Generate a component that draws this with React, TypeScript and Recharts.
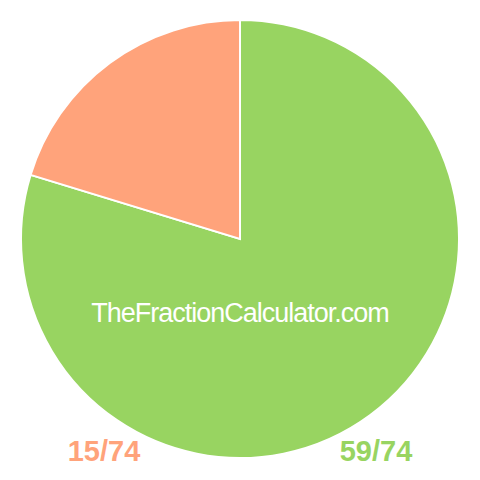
import React from 'react';
import { PieChart, Pie, Cell } from 'recharts';

const names = ['59/74', '15/74'];
const values = [59, 15];
const colors = ['#98d461', '#ffa37b'];
const siteName = 'TheFractionCalculator.com';

const data = names.map((name, i) => ({ name, value: values[i] }));

const App = () => {
  return (
    <div
      style={{
        position: 'absolute',
        top: 0,
        left: 0,
        width: 480,
        height: 480,
        background: '#fff',
        fontFamily: '"Liberation Sans", Arial, sans-serif',
      }}
    >
      <PieChart
        width={480}
        height={480}
        margin={{ top: 0, right: 0, bottom: 0, left: 0 }}
      >
        <Pie
          data={data}
          dataKey="value"
          cx={240}
          cy={239}
          outerRadius={219}
          startAngle={90}
          endAngle={-270}
          stroke="#fff"
          strokeWidth={2}
          isAnimationActive={false}
        >
          {data.map((entry, index) => (
            <Cell key={index} fill={colors[index]} />
          ))}
        </Pie>
      </PieChart>
      <svg
        width={480}
        height={480}
        style={{ position: 'absolute', top: 0, left: 0, pointerEvents: 'none' }}
      >
        <text
          x={240}
          y={322}
          textAnchor="middle"
          fill="#fff"
          fontSize={27}
          letterSpacing={-1}
        >
          {siteName}
        </text>
        <text
          x={104}
          y={461}
          textAnchor="middle"
          fill={colors[1]}
          fontSize={29}
          fontWeight="bold"
        >
          {names[1]}
        </text>
        <text
          x={376}
          y={461}
          textAnchor="middle"
          fill={colors[0]}
          fontSize={29}
          fontWeight="bold"
        >
          {names[0]}
        </text>
      </svg>
    </div>
  );
};

export default App;
